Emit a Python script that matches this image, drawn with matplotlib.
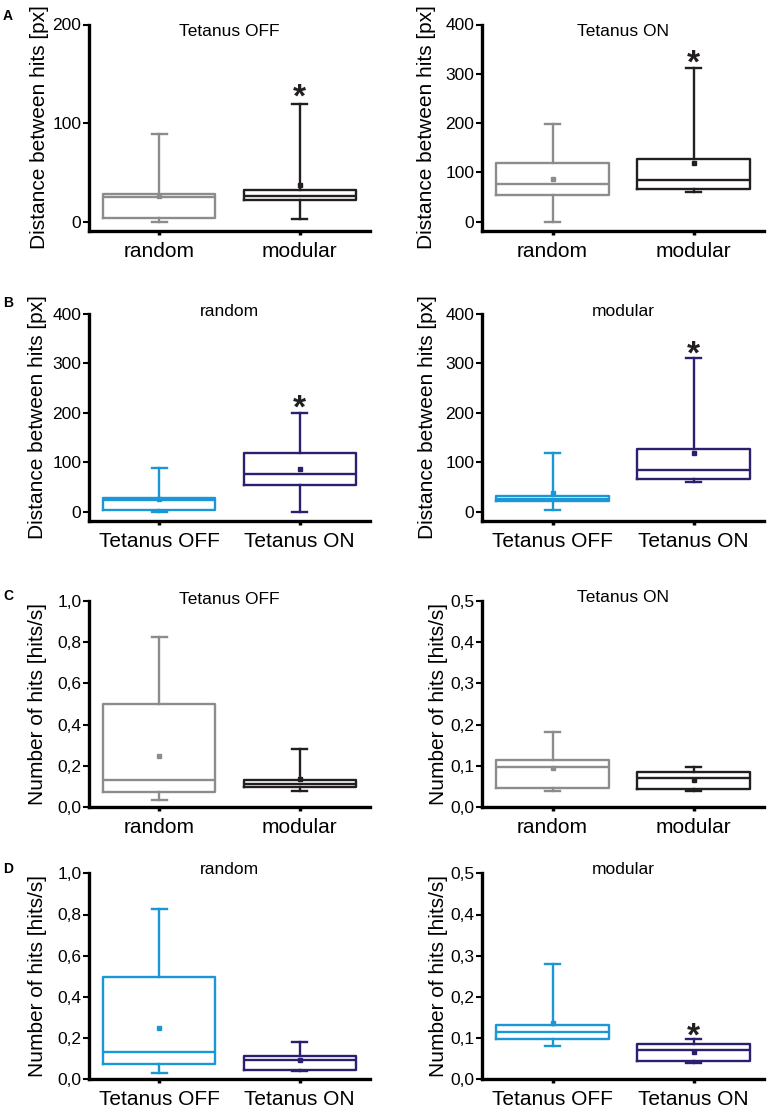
import numpy as np
import matplotlib
matplotlib.use("Agg")
import matplotlib.pyplot as plt
from matplotlib.ticker import FuncFormatter

plt.rcParams['font.family'] = ['Liberation Sans', 'DejaVu Sans']

# group order: random OFF, modular OFF, random ON, modular ON
groups = ['random_off', 'modular_off', 'random_on', 'modular_on']

# distance between hits [px]
dist_whislo = [0, 3, 0, 60]
dist_q1 = [3.5, 21.5, 55, 66]
dist_med = [24.5, 26, 77, 85]
dist_q3 = [28.5, 32, 118, 128]
dist_whishi = [89, 119, 199, 312]
dist_mean = [26, 37.5, 87, 119]

# number of hits [hits/s]
hits_whislo = [0.032, 0.080, 0.039, 0.039]
hits_q1 = [0.073, 0.097, 0.045, 0.044]
hits_med = [0.132, 0.114, 0.096, 0.070]
hits_q3 = [0.499, 0.132, 0.113, 0.086]
hits_whishi = [0.827, 0.281, 0.182, 0.097]
hits_mean = [0.249, 0.136, 0.095, 0.066]

# panels: (metric, group pair, colours, tick labels, title, ymax, step, star y)
panel_metric = ['dist', 'dist', 'dist', 'dist', 'hits', 'hits', 'hits', 'hits']
panel_groups = [(0, 1), (2, 3), (0, 2), (1, 3), (0, 1), (2, 3), (0, 2), (1, 3)]
panel_titles = ['Tetanus OFF', 'Tetanus ON', 'random', 'modular',
                'Tetanus OFF', 'Tetanus ON', 'random', 'modular']
panel_ymax = [200, 400, 400, 400, 1.0, 0.5, 1.0, 0.5]
panel_step = [100, 100, 100, 100, 0.2, 0.1, 0.2, 0.1]
star_y = [141, 351, 240, 349, None, None, None, 0.141]

gray = '#8c8c8c'
black = '#231f20'
blue = '#1b96d6'
navy = '#2c1f6e'
mode_colors = [(gray, black), (gray, black), (blue, navy), (blue, navy)] * 2
mode_labels = [('random', 'modular'), ('random', 'modular'),
               ('Tetanus OFF', 'Tetanus ON'), ('Tetanus OFF', 'Tetanus ON')] * 2

W, H = 767, 1115
col_x = [(89, 370), (482, 764)]
row_y = [(24.5, 230.5), (314, 520.7), (601, 807), (873.3, 1079.3)]
ylabel_x = [-0.142, -0.163, -0.149, -0.160, -0.149, -0.121, -0.149, -0.121]
title_off = [0, 0, 10, 10, 9, 11, 11, 11]   # px above axes top
letters = ['A', 'B', 'C', 'D']
letter_y = [9, 296, 589, 862]

fig = plt.figure(figsize=(W / 100, H / 100), dpi=100)

for i in range(8):
    r, c = divmod(i, 2)
    x0, x1 = col_x[c]
    yt, yb = row_y[r]
    ax = fig.add_axes([x0 / W, 1 - yb / H, (x1 - x0) / W, (yb - yt) / H])

    if panel_metric[i] == 'dist':
        stats_src = (dist_whislo, dist_q1, dist_med, dist_q3, dist_whishi, dist_mean)
        ylab = 'Distance between hits [px]'
        ymin = -0.045 * panel_ymax[i]
        fmt = FuncFormatter(lambda v, _: f'{v:.0f}')
    else:
        stats_src = (hits_whislo, hits_q1, hits_med, hits_q3, hits_whishi, hits_mean)
        ylab = 'Number of hits [hits/s]'
        ymin = 0
        fmt = FuncFormatter(lambda v, _: f'{v:.1f}'.replace('.', ','))

    wlo, q1, med, q3, whi, mean = stats_src
    for k, g in enumerate(panel_groups[i]):
        st = [dict(whislo=wlo[g], q1=q1[g], med=med[g], q3=q3[g],
                   whishi=whi[g], mean=mean[g], fliers=[])]
        col = mode_colors[i][k]
        lw = 1.7
        ax.bxp(st, positions=[k + 1], widths=0.8, capwidths=0.11,
               showmeans=True, showfliers=False,
               boxprops=dict(color=col, lw=lw),
               whiskerprops=dict(color=col, lw=lw),
               capprops=dict(color=col, lw=lw),
               medianprops=dict(color=col, lw=lw),
               meanprops=dict(marker='s', markersize=3.2,
                              markerfacecolor=col, markeredgecolor=col))

    if star_y[i] is not None:
        ax.text(2, star_y[i], '*', ha='center', va='top', fontsize=24,
                fontweight='bold', color=black)

    ax.set_xlim(0.5, 2.5)
    ax.set_ylim(ymin, panel_ymax[i])
    ax.set_yticks(np.arange(0, panel_ymax[i] + 1e-9, panel_step[i]))
    ax.yaxis.set_major_formatter(fmt)
    ax.set_xticks([1, 2])
    ax.set_xticklabels(mode_labels[i], fontsize=15)
    ax.tick_params(axis='y', labelsize=12.5, length=4, width=1.5, pad=1.5,
                   direction='out')
    ax.tick_params(axis='x', length=3, width=2.5, pad=5, direction='out')
    for s in ['top', 'right']:
        ax.spines[s].set_visible(False)
    for s in ['left', 'bottom']:
        ax.spines[s].set_linewidth(2.4)
        ax.spines[s].set_color('black')
    ax.set_ylabel(ylab, fontsize=15)
    ax.yaxis.set_label_coords(ylabel_x[i], 0.5)
    ax.patch.set_visible(False)

    fig.text(((x0 + x1) / 2) / W, 1 - (yt - title_off[i]) / H, panel_titles[i],
             ha='center', va='top', fontsize=12.5)

    if c == 0:
        fig.text(3 / W, 1 - letter_y[r] / H, letters[r], ha='left', va='top',
                 fontsize=10, fontweight='bold')

fig.savefig('out.png', dpi=100)
